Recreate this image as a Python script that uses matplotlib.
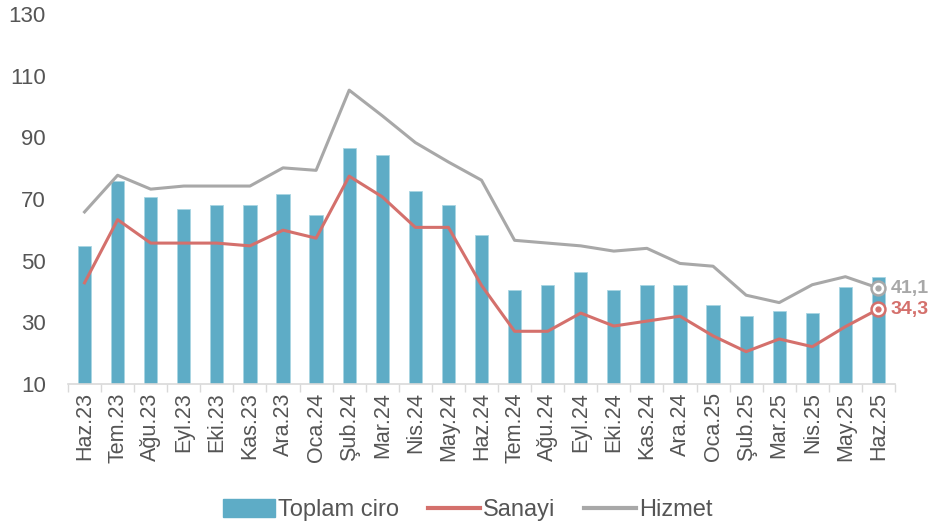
import numpy as np
import matplotlib.pyplot as plt
from matplotlib.lines import Line2D
from matplotlib.patches import Patch

plt.rcParams['font.family'] = ['Liberation Sans', 'DejaVu Sans']

months = ['Haz.23', 'Tem.23', 'Ağu.23', 'Eyl.23', 'Eki.23', 'Kas.23', 'Ara.23',
          'Oca.24', 'Şub.24', 'Mar.24', 'Nis.24', 'May.24', 'Haz.24', 'Tem.24',
          'Ağu.24', 'Eyl.24', 'Eki.24', 'Kas.24', 'Ara.24', 'Oca.25', 'Şub.25',
          'Mar.25', 'Nis.25', 'May.25', 'Haz.25']
toplam_ciro = [54.7, 75.8, 70.7, 66.6, 68.2, 68.2, 71.6, 64.8, 86.6, 84.2, 72.5, 68.2,
               58.2, 40.5, 42.2, 46.4, 40.5, 42.2, 42.2, 35.6, 32.0, 33.7, 33.0, 41.4, 44.7]
sanayi = [42.8, 63.3, 55.7, 55.7, 55.7, 54.8, 59.9, 57.3, 77.4, 70.7, 60.8, 60.8,
          42.0, 27.1, 27.1, 33.0, 28.8, 30.4, 32.0, 25.6, 20.5, 24.6, 22.1, 28.6, 34.3]
hizmet = [65.8, 77.7, 73.2, 74.2, 74.2, 74.2, 80.1, 79.3, 105.3, 97.0, 88.3, 82.0,
          76.1, 56.6, 55.7, 54.8, 53.1, 54.0, 49.1, 48.2, 38.8, 36.4, 42.2, 44.8, 41.1]

bar_color = '#5EACC6'
red = '#D4706C'
grey = '#A8A8A8'
text_color = '#555555'

fig = plt.figure(figsize=(9.3, 5.25), dpi=100)
ax = fig.add_axes([68 / 930, 1 - 384 / 525, (895 - 68) / 930, (384 - 14) / 525])

x = np.arange(len(months))
ax.bar(x, np.array(toplam_ciro) - 10, bottom=10, width=0.4, color=bar_color,
       edgecolor='#A9D6E3', linewidth=0.6, zorder=2)
ax.plot(x, sanayi, color=red, lw=2.2, zorder=3)
ax.plot(x, hizmet, color=grey, lw=2.2, zorder=3)

# end markers and labels
for vals, col in [(hizmet, grey), (sanayi, red)]:
    ax.plot(x[-1], vals[-1], 'o', ms=10, mfc='white', mec=col, mew=1.8, zorder=4)
    ax.plot(x[-1], vals[-1], 'o', ms=3.5, color=col, zorder=5)
    ax.text(x[-1] + 0.36, vals[-1], f'{vals[-1]:.1f}'.replace('.', ','), color=col,
            fontsize=14, fontweight='bold', va='center', ha='left', clip_on=False)

ax.set_ylim(10, 130)
ax.set_xlim(-0.5, len(months) - 0.5)
ax.set_yticks(np.arange(10, 131, 20))
ax.tick_params(axis='y', length=0, labelsize=16, labelcolor=text_color, pad=16)
ax.set_xticks(x)
ax.set_xticklabels(months, rotation=90, fontsize=15.5, color=text_color)
ax.tick_params(axis='x', length=0, pad=6)
ax.set_xticks(np.arange(-0.5, len(months), 1), minor=True)
ax.tick_params(axis='x', which='minor', length=6, color='#D9D9D9', width=1)

for s in ['top', 'right', 'left']:
    ax.spines[s].set_visible(False)
ax.spines['bottom'].set_color('#D9D9D9')
ax.spines['bottom'].set_linewidth(1.2)

handles = [Patch(color=bar_color, label='Toplam ciro'),
           Line2D([], [], color=red, lw=3, label='Sanayi'),
           Line2D([], [], color=grey, lw=3, label='Hizmet')]
fig.legend(handles=handles, loc='center', bbox_to_anchor=(468 / 930, 1 - 510 / 525),
           ncol=3, frameon=False, fontsize=17, handlelength=2.2, handletextpad=0.15,
           columnspacing=1.2, labelcolor=text_color, handleheight=0.8)

fig.savefig('out.png', dpi=100)
